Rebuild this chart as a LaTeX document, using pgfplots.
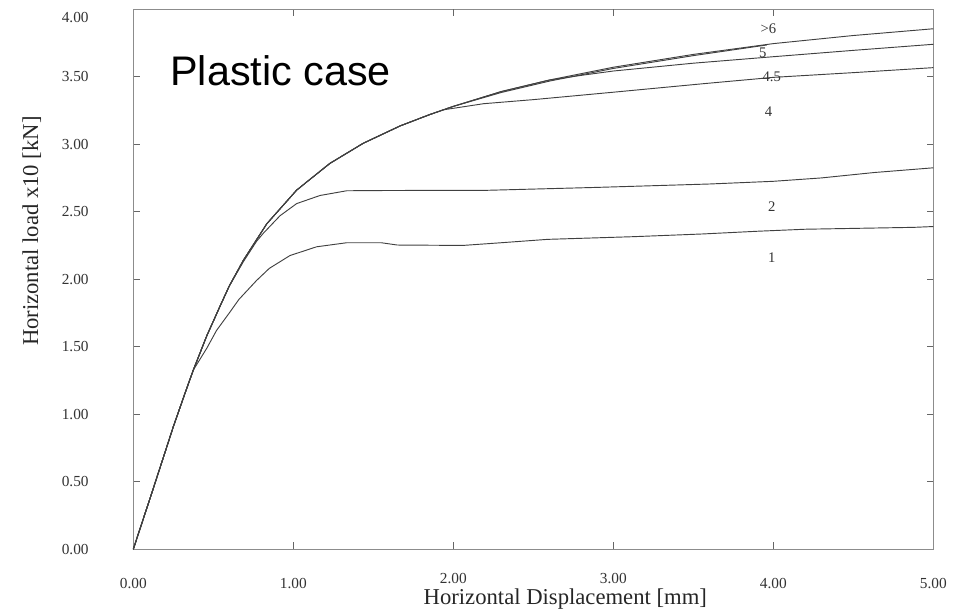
\documentclass[border=0pt]{standalone}
\usepackage{fontspec}
\setmainfont{Liberation Serif}
\newfontfamily\arialfont{Liberation Sans}
\usepackage{pgfplots}
\pgfplotsset{compat=1.18}
\pgfplotsset{cv/.style={no marks, line width=0.7pt, black!75}}
\begin{document}
\begin{tikzpicture}
\begin{axis}[
 scale only axis, width=600pt, height=405pt,
 xmin=0, xmax=5, ymin=0, ymax=4,
 xtick={0,1,4,5}, ytick={0,0.5,1,1.5,2,2.5,3,3.5},
 extra x ticks={2,3},
 extra x tick style={xticklabel style={yshift=3.5pt}},
 tick align=inside, xtick pos=both, ytick pos=both,
 xticklabel pos=lower, yticklabel pos=left,
 major tick length=5pt,
 axis line style={draw=black!45, line width=0.6pt},
 tick style={black!60, line width=0.6pt},
 /pgf/number format/fixed,
 /pgf/number format/fixed zerofill,
 /pgf/number format/precision=2,
 /pgf/number format/assume math mode=true,
 tick label style={font=\fontsize{11.5}{13}\selectfont, text=black!80},
 yticklabel style={anchor=east, xshift=-30pt},
 xticklabel style={anchor=north, yshift=-18pt},
 xlabel={Horizontal Displacement [mm]},
 ylabel={Horizontal load x10 [kN]},
 label style={font=\fontsize{17}{20}\selectfont, text=black!85},
 xlabel style={at={(axis description cs:0.54,-0.102)}, anchor=base},
 ylabel style={at={(axis description cs:-0.127,0.589)}, anchor=center},
 clip=false,
]
% >6
\addplot[cv] coordinates {(0,0)(0.115,0.414)(0.25,0.907)(0.323,1.155)(0.375,1.327)(0.459,1.58)(0.542,1.80)(0.60,1.95)(0.688,2.14)(0.834,2.41)(1.021,2.66)(1.229,2.858)(1.4375,3.007)(1.667,3.135)(1.854,3.22)(2.0,3.28)(2.3,3.39)(2.6,3.475)(3.0,3.57)(3.5,3.665)(4.0,3.745)(4.5,3.805)(5.0,3.855)};
% 5
\addplot[cv] coordinates {(0,0)(0.115,0.414)(0.25,0.907)(0.323,1.155)(0.375,1.327)(0.459,1.58)(0.542,1.80)(0.60,1.95)(0.688,2.14)(0.834,2.41)(1.021,2.66)(1.229,2.858)(1.4375,3.007)(1.667,3.135)(1.854,3.22)(2.0,3.28)(2.3,3.383)(2.6,3.467)(3.0,3.561)(3.5,3.656)(3.96,3.735)};
% 4.5
\addplot[cv] coordinates {(0,0)(0.115,0.414)(0.25,0.907)(0.323,1.155)(0.375,1.327)(0.459,1.58)(0.542,1.80)(0.60,1.95)(0.688,2.14)(0.834,2.41)(1.021,2.66)(1.229,2.858)(1.4375,3.007)(1.667,3.135)(1.854,3.22)(2.0,3.28)(2.3,3.39)(2.6,3.475)(2.8,3.51)(3.0,3.542)(3.5,3.60)(4.0,3.648)(4.5,3.695)(5.0,3.74)};
% 4
\addplot[cv] coordinates {(0,0)(0.115,0.414)(0.25,0.907)(0.323,1.155)(0.375,1.327)(0.459,1.58)(0.542,1.80)(0.60,1.95)(0.688,2.14)(0.834,2.41)(1.021,2.66)(1.229,2.858)(1.4375,3.007)(1.667,3.135)(1.854,3.22)(1.94,3.255)(2.19,3.30)(2.5,3.33)(3.0,3.385)(3.58,3.45)(4.0,3.495)(4.5,3.53)(5.0,3.567)};
% 2
\addplot[cv] coordinates {(0,0)(0.115,0.414)(0.25,0.907)(0.323,1.155)(0.375,1.327)(0.459,1.58)(0.542,1.80)(0.60,1.95)(0.688,2.13)(0.77,2.28)(0.8125,2.34)(0.917,2.47)(1.021,2.56)(1.167,2.62)(1.334,2.655)(1.6,2.657)(2.2,2.658)(2.9,2.68)(3.6,2.705)(4.0,2.725)(4.3,2.75)(4.63,2.79)(5.0,2.825)};
% 1
\addplot[cv] coordinates {(0,0)(0.115,0.414)(0.25,0.907)(0.323,1.155)(0.375,1.327)(0.46,1.49)(0.52,1.62)(0.60,1.75)(0.66,1.85)(0.77,1.99)(0.85,2.08)(0.979,2.175)(1.146,2.24)(1.334,2.27)(1.55,2.27)(1.65,2.253)(2.06,2.25)(2.30,2.27)(2.59,2.295)(3.13,2.315)(3.56,2.335)(3.90,2.355)(4.20,2.37)(4.88,2.384)(5.0,2.39)};

\node[anchor=east, inner sep=0.333em, font=\fontsize{11.5}{13}\selectfont, text=black!80, xshift=-30pt, yshift=-6pt] at (rel axis cs:0,1) {4.00};
\node[anchor=base west, inner sep=0pt, font=\arialfont\fontsize{31}{36}\selectfont] at (axis description cs:0.046,0.859) {Plastic case};

\begin{scope}[every node/.style={font=\fontsize{11}{13}\selectfont, text=black!80, inner sep=0pt}]
\node at (axis cs:3.97,3.853) {>6};
\node at (axis cs:3.935,3.68) {5};
\node at (axis cs:3.99,3.50) {4.5};
\node at (axis cs:3.97,3.24) {4};
\node at (axis cs:3.99,2.54) {2};
\node at (axis cs:3.99,2.16) {1};
\end{scope}

\coordinate (sw) at (rel axis cs:0,0);
\coordinate (ne) at (rel axis cs:1,1);
\end{axis}
\pgfresetboundingbox
\path[use as bounding box] ([shift={(-100pt,-48.6pt)}]sw) rectangle ([shift={(17.8pt,6.9pt)}]ne);
\end{tikzpicture}
\end{document}
